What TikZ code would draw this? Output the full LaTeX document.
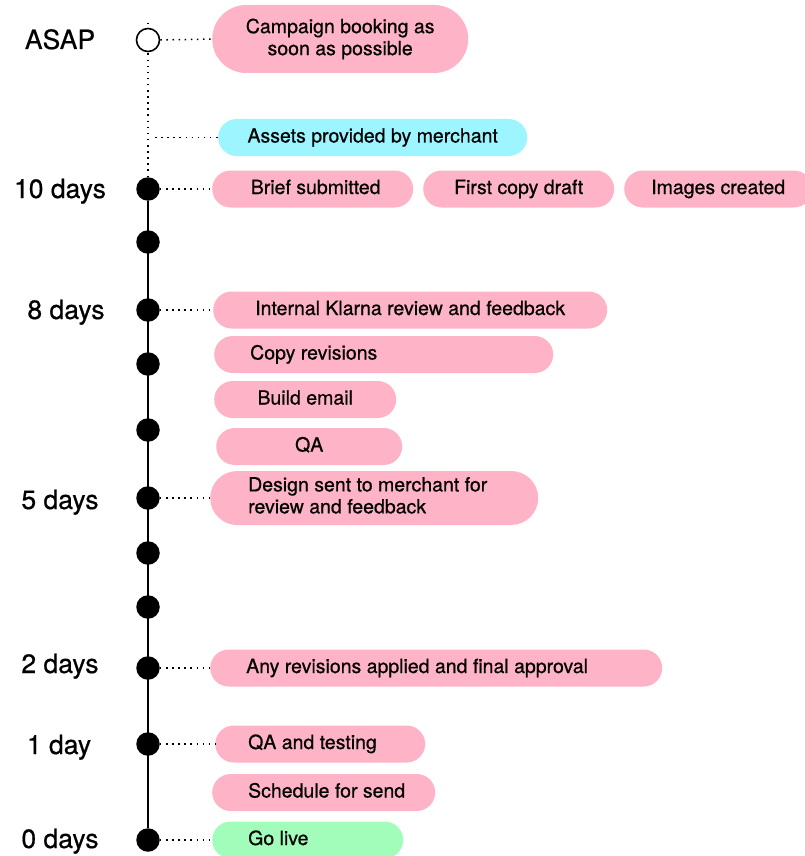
\documentclass[tikz,border=0pt]{standalone}
\usepackage{fontspec}
\setmainfont{TeX Gyre Heros}[FakeBold=0.6]
\usetikzlibrary{backgrounds}
\definecolor{kpink}{HTML}{FFB3C7}
\definecolor{kcyan}{HTML}{9CF5FF}
\definecolor{kgreen}{HTML}{A2FDBA}
\begin{document}
\begin{tikzpicture}[x=1pt,y=-1pt,
  pill/.style={fill=kpink, inner sep=0pt, minimum height=37pt, rounded corners=18.5pt,
    font=\fontsize{19.5}{22}\selectfont, text=black, anchor=west, text height=14pt, text depth=4pt},
  pilltwo/.style={pill, text height=, text depth=},
  lbl/.style={font=\fontsize{26.5}{30}\selectfont, anchor=base},
  dotb/.style={circle, fill=black, minimum size=23.5pt, inner sep=0pt},
  conn/.style={line width=1.5pt, dash pattern=on 1.5pt off 4.6pt},
  axis/.style={line width=1.7pt}
]
\useasboundingbox (0,0) rectangle (804,856);

% time labels
\node[lbl] (lasap) at (60,49) {ASAP};
\node[lbl] (l10) at (60,198) {10 days};
\node[lbl] (l8) at (66,319) {8 days};
\node[lbl] (l5) at (60,509) {5 days};
\node[lbl] (l2) at (60,673) {2 days};
\node[lbl] (l1) at (59,754) {1 day};
\node[lbl] (l0) at (60,848) {0 days};

% timeline points
\node[circle, draw=black, line width=1.6pt, fill=white, minimum size=23pt, inner sep=0pt] (pasap) at (148,40) {};
\node[dotb] (p10) at (148,189) {};
\node[dotb] (pa) at (148,242) {};
\node[dotb] (p8) at (148,310) {};
\node[dotb] (pb) at (148,364) {};
\node[dotb] (pc) at (148,430) {};
\node[dotb] (p5) at (148,498) {};
\node[dotb] (pd) at (148,553) {};
\node[dotb] (pe) at (148,607) {};
\node[dotb] (p2) at (148,668) {};
\node[dotb] (p1) at (148,744) {};
\node[dotb] (p0) at (148,840) {};
\coordinate (ptop) at (148,23);
\coordinate (pass) at (155,137.5);

% boxes
\node[pilltwo, minimum width=256pt, minimum height=68pt, rounded corners=34pt, align=center] (campaign) at (212,39) {Campaign booking as\\soon as possible};
\node[pill, fill=kcyan, minimum width=309pt] (assets) at (218,137.5) {Assets provided by merchant};
\node[pill, minimum width=201pt] (brief) at (212,189) {\hspace*{6pt}Brief submitted};
\node[pill, minimum width=191pt] (copy) at (423,189) {First copy draft};
\node[pill, minimum width=188pt] (images) at (624,189) {Images created};
\node[pill, minimum width=394pt] (review) at (213,310) {Internal Klarna review and feedback};
\node[pill, minimum width=339pt] (revisions) at (214,354.5) {\makebox[267pt][l]{Copy revisions}};
\node[pill, minimum width=182pt] (build) at (214,399.5) {Build email};
\node[pill, minimum width=186pt] (qa) at (216,446.5) {QA};
\node[pilltwo, minimum width=328pt, minimum height=54pt, rounded corners=27pt] (design) at (210,498) {\makebox[252pt][l]{\begin{tabular}{@{}l@{}}Design sent to merchant for\\review and feedback\end{tabular}}};
\node[pill, minimum width=452pt] (approval) at (210,668) {\makebox[380pt][l]{Any revisions applied and final approval}};
\node[pill, minimum width=210pt] (testing) at (215,744) {\makebox[144pt][l]{QA and testing}};
\node[pill, minimum width=223pt] (schedule) at (212,792.5) {\makebox[151pt][l]{Schedule for send}};
\node[pill, fill=kgreen, minimum width=191pt] (golive) at (212,840) {\makebox[119pt][l]{Go live}};

\begin{scope}[on background layer]
  \draw[conn] (ptop) -- (p10);
  \draw[axis] (p10) -- (p0);
\end{scope}

% connectors
\draw[conn] (pasap.east) -- (campaign.west);
\draw[conn] (pass) -- (assets.west);
\draw[conn] (p10.east) -- (brief.west);
\draw[conn] (p8.east) -- (review.west);
\draw[conn] (p5.east) -- (design.west);
\draw[conn] (p2.east) -- (approval.west);
\draw[conn] (p1.east) -- (testing.west);
\draw[conn] (p0.east) -- (golive.west);
\end{tikzpicture}
\end{document}
